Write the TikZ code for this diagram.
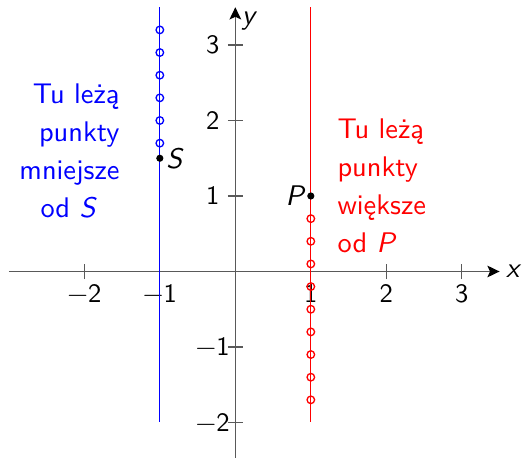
\documentclass[tikz,border=0pt]{standalone}
\usepackage{fontspec}
\usetikzlibrary{arrows.meta}
\begin{document}
\begin{tikzpicture}[
  ax/.style={draw=black!65, line width=0.5pt},
  axarrow/.style={ax, -{Stealth[length=4.6pt,width=4.4pt,inset=1pt,color=black]}},
  ticklbl/.style={inner sep=0pt, font=\sffamily\fontsize{10}{12}\selectfont},
  ring/.style={circle, draw=#1, line width=0.5pt, inner sep=0pt, minimum size=0.1cm},
  pt/.style={circle, fill=black, inner sep=0pt, minimum size=0.095cm},
  lbl/.style={inner sep=0pt, font=\sffamily\fontsize{10.7}{14.3}\selectfont},
  vline/.style={line width=0.5pt, draw=#1},
]
\useasboundingbox (-3.117,-2.483) rectangle (3.797,3.596);
% axes
\coordinate (xs) at (-3,0);
\coordinate (xe) at (3.5,0);
\coordinate (ys) at (0,-2.47);
\coordinate (ye) at (0,3.5);
\draw[axarrow] (xs) -- (xe);
\draw[axarrow] (ys) -- (ye);
\node[lbl, anchor=mid west] (xlab) at (3.58,0) {\textit{x}};
\node[lbl, anchor=north west] (ylab) at (0.08,3.44) {\textit{y}};
% ticks
\foreach \x/\t/\n in {-2/−2/a,-1/−1/b,1/1/c,2/2/d,3/3/e}{
  \draw[ax] (\x,-0.1) -- (\x,0.1);
  \node[ticklbl] (xl\n) at (\x,-0.29) {\t};
}
\foreach \y/\t/\n in {-2/−2/a,-1/−1/b,1/1/c,2/2/d,3/3/e}{
  \draw[ax] (-0.1,\y) -- (0.1,\y);
  \node[ticklbl] (yl\n) at (-0.3,\y) {\t};
}
% blue line
\coordinate (btop) at (-1,3.5);
\coordinate (bbot) at (-1,-2);
\draw[vline=blue] (btop) -- (bbot);
\foreach \y/\n in {1.7/1,2.0/2,2.3/3,2.6/4,2.9/5,3.2/6}
  \node[ring=blue] (b\n) at (-1,\y) {};
% red line
\coordinate (rtop) at (1,3.5);
\coordinate (rbot) at (1,-2);
\draw[vline=red] (rtop) -- (rbot);
\foreach \y/\n in {0.7/1,0.4/2,0.1/3,-0.2/4,-0.5/5,-0.8/6,-1.1/7,-1.4/8,-1.7/9}
  \node[ring=red] (r\n) at (1,\y) {};
% points
\node[pt] (S) at (-1,1.5) {};
\node[lbl, anchor=west] (Slab) at ([xshift=0.08cm]S.center) {\textit{S}};
\node[pt] (P) at (1,1) {};
\node[lbl, anchor=east] (Plab) at ([xshift=-0.06cm]P.center) {\textit{P}};
% texts
\node[lbl, text=blue, align=right, anchor=north east] (tblue) at (-1.527,2.497)
  {Tu leżą\\punkty\\mniejsze\\od \textit{S}\hspace*{0.3cm}};
\node[lbl, text=red, align=left, anchor=north west] (tred) at (1.347,2.03)
  {Tu leżą\\punkty\\większe\\od \textit{P}};
\end{tikzpicture}
\end{document}
